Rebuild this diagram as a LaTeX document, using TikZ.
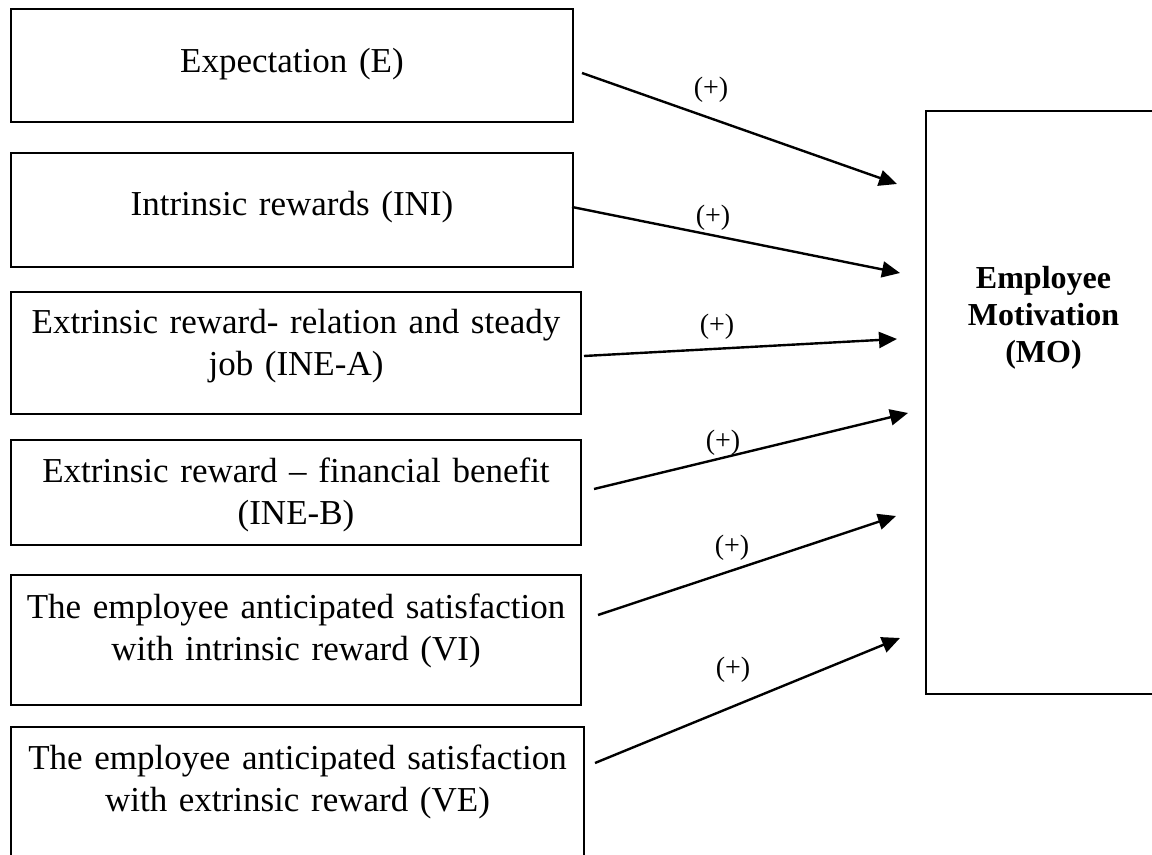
\documentclass[tikz,border=0pt]{standalone}
\usepackage{fontspec}
\setmainfont{Liberation Serif}
\usetikzlibrary{arrows.meta}
\begin{document}
\begin{tikzpicture}
  [x=0.5pt,y=-0.5pt,
   box/.style={draw,line width=1pt,anchor=north west,inner sep=0pt,align=center,
     font=\fontsize{17.5}{21}\selectfont},
   sign/.style={font=\fontsize{14}{16}\selectfont,inner sep=0pt},
   link/.style={line width=1.2pt,-{Triangle[length=9pt,width=8pt]}}]
  \useasboundingbox (0,0) rectangle (1152,855);

  \node (e) at (10,8) [box,text width=281pt,text height=32pt,text depth=24.5pt] {Expectation (E)};
  \node (ini) at (10,152) [box,text width=281pt,text height=31.5pt,text depth=25.5pt] {Intrinsic rewards (INI)};
  \node (inea) at (10,291) [box,text width=285pt,text height=21pt,text depth=40pt] {Extrinsic reward- relation and steady\\ job (INE-A)};
  \node (ineb) at (10,439) [box,text width=285pt,text height=21.5pt,text depth=31pt] {Extrinsic reward – financial benefit\\ (INE-B)};
  \node (vi) at (10,574) [box,text width=285pt,text height=21.5pt,text depth=43.5pt] {The employee anticipated satisfaction\\ with intrinsic reward (VI)};
  \node (ve) at (10,726) [box,text width=286.5pt,text height=21pt,text depth=56pt] {The employee anticipated satisfaction\\ with extrinsic reward (VE)};

  \node (mo) at (925,110) [box,text width=117.5pt,text height=89pt,text depth=202.5pt,
    font=\fontsize{16}{18.5}\selectfont\bfseries] {Employee\\ Motivation\\ (MO)};

  \coordinate (e-o) at (582,73);     \coordinate (mo-1) at (897,184);
  \coordinate (ini-o) at (572,207);  \coordinate (mo-2) at (900,273);
  \coordinate (inea-o) at (584,356); \coordinate (mo-3) at (897,339);
  \coordinate (ineb-o) at (594,489); \coordinate (mo-4) at (908,413);
  \coordinate (vi-o) at (598,615);   \coordinate (mo-5) at (896,516);
  \coordinate (ve-o) at (595,763);   \coordinate (mo-6) at (900,638);

  \draw [link] (e-o) to (mo-1);
  \draw [link] (ini-o) to (mo-2);
  \draw [link] (inea-o) to (mo-3);
  \draw [link] (ineb-o) to (mo-4);
  \draw [link] (vi-o) to (mo-5);
  \draw [link] (ve-o) to (mo-6);

  \node (s1) at (711,90) [sign] {(+)};
  \node (s2) at (713,218) [sign] {(+)};
  \node (s3) at (717,327) [sign] {(+)};
  \node (s4) at (723,443) [sign] {(+)};
  \node (s5) at (732,548) [sign] {(+)};
  \node (s6) at (733,670) [sign] {(+)};
\end{tikzpicture}
\end{document}
